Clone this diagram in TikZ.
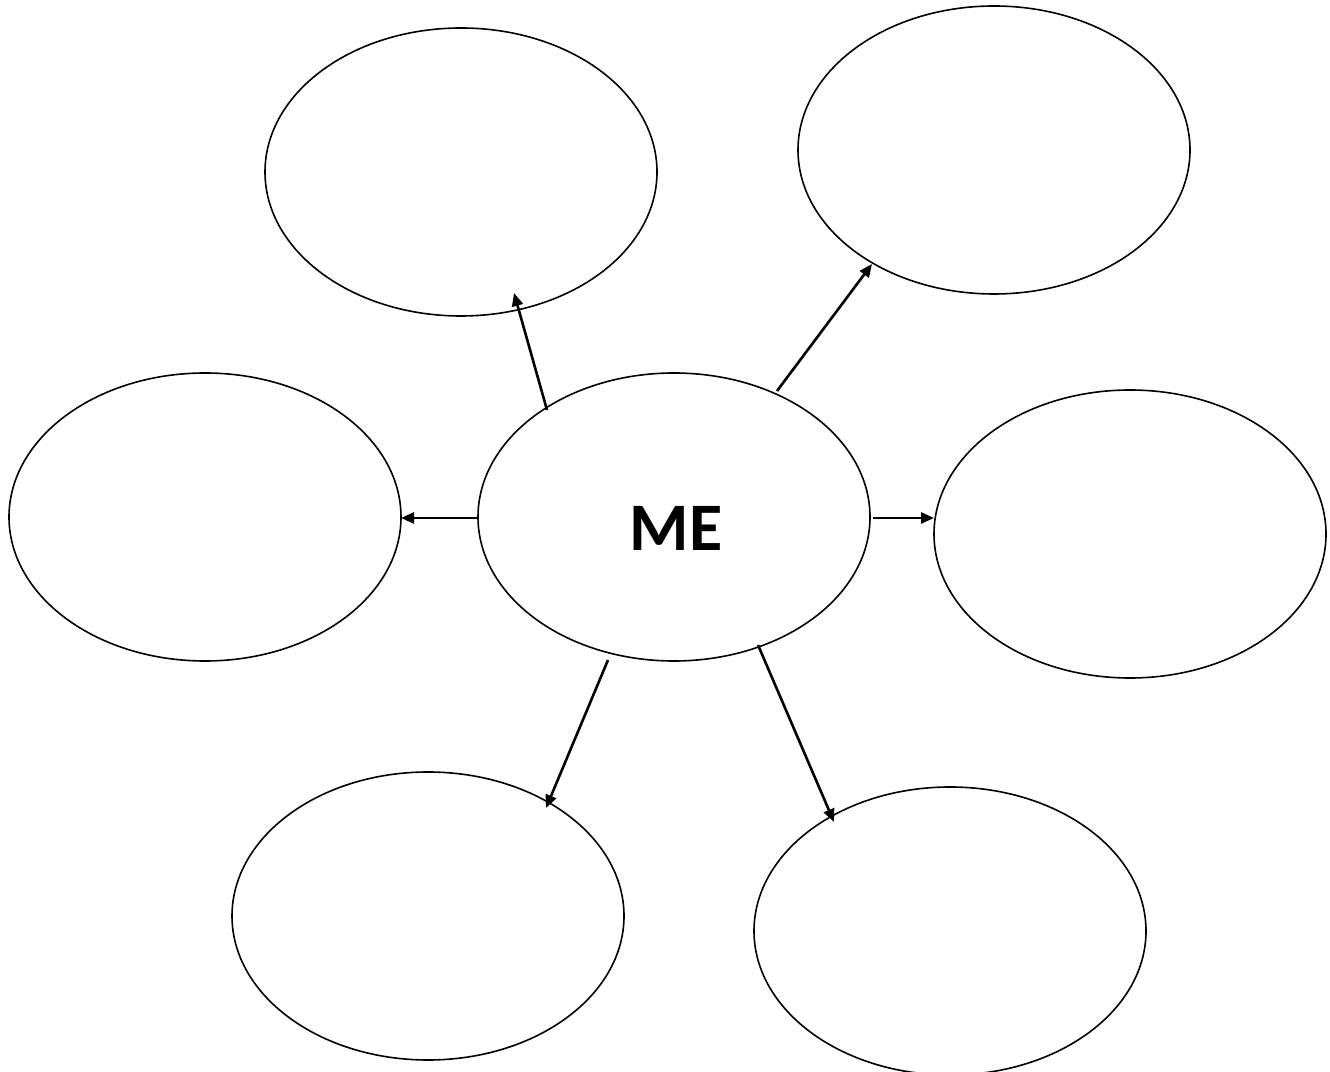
\documentclass[tikz,border=0pt]{standalone}
\usepackage{fontspec}
\setsansfont{Carlito}
\usetikzlibrary{shapes.geometric,arrows.meta,calc}
\begin{document}
\begin{tikzpicture}[x=1pt,y=1pt,
  bubble/.style={draw=black,ellipse,line width=1.6pt,minimum width=392pt,minimum height=288pt,inner sep=0pt},
  link/.style={line width=2.6pt,-{Triangle[length=13pt,width=11pt]}}]
\useasboundingbox (0,0) rectangle (1330,1071);
\node[bubble] (me) at (674,554) {};
\node[bubble] (tl) at (461,899) {};
\node[bubble] (tr) at (994,921) {};
\node[bubble] (l) at (205,554) {};
\node[bubble] (r) at (1130,537) {};
\node[bubble] (bl) at (428,155) {};
\node[bubble] (br) at (950,140) {};
\node[font=\sffamily\bfseries\fontsize{68}{68}\selectfont,inner sep=0pt] (metext) at ($(me.center)+(2,-11.5)$) {ME};
\draw[link] ($(me.center)+(-127,107)$) -- ($(tl.center)+(53,-121)$);
\draw[link] ($(me.center)+(103,126)$) -- ($(tr.center)+(-122,-114)$);
\draw[link] ($(me.center)+(-196,-1)$) -- ($(l.center)+(196,-1)$);
\draw[link] ($(me.center)+(199,-1)$) -- ($(r.center)+(-196,16)$);
\draw[link] ($(me.center)+(-66,-143)$) -- ($(bl.center)+(118,108)$);
\draw[link] ($(me.center)+(84,-128)$) -- ($(br.center)+(-116,109)$);
\end{tikzpicture}
\end{document}
